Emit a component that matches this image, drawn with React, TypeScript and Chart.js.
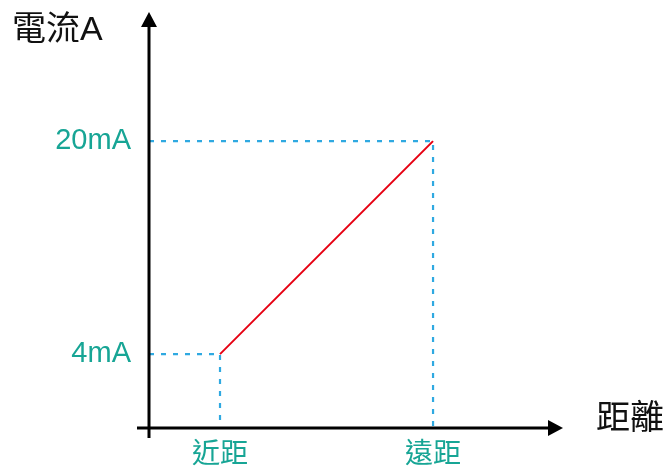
import React, { useEffect, useRef } from "react";
import { Chart, registerables } from "chart.js";

Chart.register(...registerables);

// ---- data ----
const distanceLabels = ["近距", "遠距"];
const distanceValues = [1, 4];
const currentValues = [4, 20];
const currentLabels = ["4mA", "20mA"];
const yAxisTitle = "電流A";
const xAxisTitle = "距離";
const xRange = [0, 5.83];
const yRange = [-1.55, 29.7];

const TEAL = "#17A595";
const BLUE = "#2FA9E1";
const RED = "#E60012";
const FONT = "'Liberation Sans', 'Noto Sans CJK TC', sans-serif";

export default function App() {
  const ref = useRef<HTMLCanvasElement | null>(null);

  useEffect(() => {
    if (!ref.current) return;
    const ctx = ref.current.getContext("2d")!;

    const mainLine = distanceValues.map((x, i) => ({ x, y: currentValues[i] }));
    const guides = distanceValues.map((x, i) => ({
      type: "line" as const,
      data: [
        { x: xRange[0], y: currentValues[i] },
        { x, y: currentValues[i] },
        { x, y: yRange[0] },
      ],
      borderColor: BLUE,
      borderWidth: 2.2,
      borderDash: [5, 7],
      pointRadius: 0,
      fill: false,
      tension: 0,
    }));

    const axesPlugin = {
      id: "arrowAxes",
      afterDraw(chart: any) {
        const c = chart.ctx;
        const a = chart.chartArea;
        c.save();
        c.strokeStyle = "#000";
        c.fillStyle = "#000";
        c.lineWidth = 3;
        // y axis
        c.beginPath();
        c.moveTo(a.left, a.bottom + 10);
        c.lineTo(a.left, a.top + 12);
        c.stroke();
        c.beginPath();
        c.moveTo(a.left, a.top);
        c.lineTo(a.left - 8, a.top + 15);
        c.lineTo(a.left + 8, a.top + 15);
        c.closePath();
        c.fill();
        // x axis
        c.beginPath();
        c.moveTo(a.left - 12, a.bottom);
        c.lineTo(a.right - 12, a.bottom);
        c.stroke();
        c.beginPath();
        c.moveTo(a.right, a.bottom);
        c.lineTo(a.right - 15, a.bottom - 8);
        c.lineTo(a.right - 15, a.bottom + 8);
        c.closePath();
        c.fill();
        // titles
        c.fillStyle = "#111";
        c.font = `34px ${FONT}`;
        c.textBaseline = "middle";
        c.textAlign = "left";
        c.fillText(yAxisTitle, 12, 31);
        c.fillText(xAxisTitle, a.right + 33, a.bottom - 8);
        c.restore();
      },
    };

    const chart = new Chart(ctx, {
      type: "line",
      data: {
        datasets: [
          ...guides,
          {
            type: "line",
            data: mainLine,
            borderColor: RED,
            borderWidth: 2,
            pointRadius: 0,
            fill: false,
            tension: 0,
          },
        ] as any,
      },
      options: {
        animation: false,
        responsive: false,
        layout: { padding: { top: 12, right: 109, left: 0, bottom: 0 } },
        plugins: { legend: { display: false }, tooltip: { enabled: false } },
        scales: {
          x: {
            type: "linear",
            min: xRange[0],
            max: xRange[1],
            grid: { display: false, drawTicks: false },
            border: { display: false },
            afterFit: (s: any) => {
              s.height = 42;
              s.paddingLeft = 0;
              s.paddingRight = 0;
            },
            afterBuildTicks: (s: any) => {
              s.ticks = distanceValues.map((v) => ({ value: v }));
            },
            ticks: {
              color: TEAL,
              font: { family: FONT, size: 28 },
              padding: 10,
              maxRotation: 0,
              autoSkip: false,
              callback: (v: any) => {
                const i = distanceValues.indexOf(Number(v));
                return i >= 0 ? distanceLabels[i] : "";
              },
            },
          },
          y: {
            type: "linear",
            min: yRange[0],
            max: yRange[1],
            grid: { display: false, drawTicks: false },
            border: { display: false },
            afterFit: (s: any) => {
              s.width = 149;
              s.paddingTop = 0;
              s.paddingBottom = 0;
            },
            afterBuildTicks: (s: any) => {
              s.ticks = currentValues.map((v) => ({ value: v }));
            },
            ticks: {
              color: TEAL,
              font: { family: FONT, size: 29 },
              padding: 18,
              autoSkip: false,
              callback: (v: any) => {
                const i = currentValues.indexOf(Number(v));
                return i >= 0 ? currentLabels[i] : "";
              },
            },
          },
        },
      } as any,
      plugins: [axesPlugin],
    });

    return () => chart.destroy();
  }, []);

  return (
    <div style={{ position: "absolute", left: 0, top: 0, width: 672, height: 470, background: "#fff" }}>
      <canvas ref={ref} width={672} height={470} style={{ width: 672, height: 470, display: "block" }} />
    </div>
  );
}
